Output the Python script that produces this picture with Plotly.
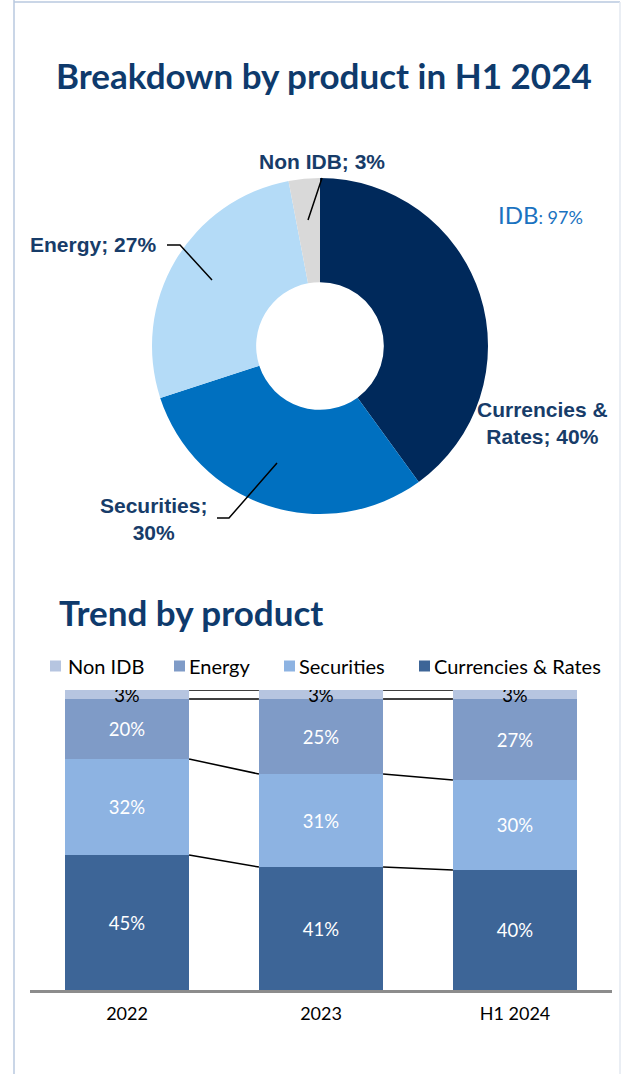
import plotly.graph_objects as go

# ---- Donut: product mix in H1 2024 ----
donut_labels = ["Currencies & Rates", "Securities", "Energy", "Non IDB"]
donut_values = [40, 30, 27, 3]
donut_colors = ["#00295b", "#0070c0", "#b4dbf7", "#d9d9d9"]
idb_share = 97

# ---- Stacked bars: trend by product ----
periods = ["2022", "2023", "H1 2024"]
currencies_rates = [45, 41, 40]
securities = [32, 31, 30]
energy = [20, 25, 27]
non_idb = [3, 3, 3]

W, H = 623, 1074
BAR_W = 0.64


def px(x):
    return x / W


def py(y):
    return 1 - y / H


TITLE_FONT = "Lato"
LABEL_FONT = "Liberation Sans"
NAVY = "#0e3a6c"
LABEL_NAVY = "#173c69"

fig = go.Figure()

fig.add_trace(go.Pie(
    labels=donut_labels,
    values=donut_values,
    marker=dict(colors=donut_colors, line=dict(width=0)),
    hole=0.38,
    sort=False,
    direction="clockwise",
    rotation=0,
    textinfo="none",
    hoverinfo="label+percent",
    showlegend=False,
    domain=dict(x=[px(152), px(488)], y=[py(514), py(178)]),
))

bar_series = [
    ("Currencies & Rates", currencies_rates, "#3d6597", "white"),
    ("Securities", securities, "#8db3e2", "white"),
    ("Energy", energy, "#7f9bc7", "white"),
    ("Non IDB", non_idb, "#b6c5e0", "black"),
]
xs = list(range(len(periods)))
for name, vals, color, tcolor in bar_series:
    fig.add_trace(go.Bar(
        x=xs, y=vals, name=name,
        marker=dict(color=color, line=dict(width=0)),
        width=BAR_W,
        text=[f"{v}%" for v in vals],
        textposition="inside",
        insidetextanchor="middle",
        textangle=0,
        constraintext="none",
        textfont=dict(family=TITLE_FONT, size=18.5, color=tcolor),
        showlegend=False,
        xaxis="x", yaxis="y",
    ))

# Connector lines between neighbouring bars at each stack boundary
shapes = []
cum = [[0] * len(periods)]
for _, vals, _, _ in bar_series:
    cum.append([c + v for c, v in zip(cum[-1], vals)])
for level in cum[1:]:
    for i in range(len(periods) - 1):
        shapes.append(dict(
            type="line", xref="x", yref="y",
            x0=i + BAR_W / 2, y0=level[i],
            x1=i + 1 - BAR_W / 2, y1=level[i + 1],
            line=dict(color="black", width=1.5),
        ))

# Donut leader lines
lead = dict(color="black", width=1.5)
shapes += [
    dict(type="line", xref="paper", yref="paper", x0=px(322), y0=py(178),
         x1=px(308), y1=py(220), line=lead),
    dict(type="path", xref="paper", yref="paper",
         path=f"M {px(167)},{py(245)} L {px(180)},{py(245)} L {px(212)},{py(280)}",
         line=lead),
    dict(type="path", xref="paper", yref="paper",
         path=f"M {px(217)},{py(518)} L {px(229)},{py(518)} L {px(277)},{py(463)}",
         line=lead),
]

# Page frame
frame = dict(color="#b8c8df", width=1.5)
shapes += [
    dict(type="line", xref="paper", yref="paper", x0=px(14), y0=0, x1=px(14), y1=1, line=frame),
    dict(type="line", xref="paper", yref="paper", x0=px(14), y0=py(2), x1=px(620), y1=py(2), line=frame),
    dict(type="line", xref="paper", yref="paper", x0=px(620), y0=py(2), x1=px(620), y1=0,
         line=dict(color="#e3e8f0", width=1.5)),
]

lab_font = dict(family=LABEL_FONT, size=21, color=LABEL_NAVY)
annotations = [
    dict(text="<b>Breakdown by product in H1 2024</b>", x=px(324), y=py(75),
         font=dict(family=TITLE_FONT, size=35, color=NAVY)),
    dict(text="<b>Trend by product</b>", x=px(57), y=py(612), xanchor="left",
         font=dict(family=TITLE_FONT, size=35, color=NAVY)),
    dict(text=f"IDB<span style='font-size:18px'>: {idb_share}%</span>",
         x=px(496), y=py(214), xanchor="left",
         font=dict(family=TITLE_FONT, size=24, color="#1a72c0")),
    dict(text=f"<b>{donut_labels[3]}; {donut_values[3]}%</b>", x=px(322), y=py(161),
         font=lab_font),
    dict(text=f"<b>{donut_labels[2]}; {donut_values[2]}%</b>", x=px(158), y=py(245),
         xanchor="right", font=lab_font),
    dict(text=f"<b>Currencies &amp;<br>Rates; {donut_values[0]}%</b>", x=px(542), y=py(423),
         font=lab_font),
    dict(text=f"<b>{donut_labels[1]};<br>{donut_values[1]}%</b>", x=px(153), y=py(519),
         font=lab_font),
]

# Legend row (top of stack first), square swatch followed by the series name
legend_swatch_x = [50, 174, 284, 419]
legend_text_x = [66, 187, 297, 432]
LEG_Y = 666
for (name, _, color, _), sx, tx in zip(reversed(bar_series), legend_swatch_x, legend_text_x):
    shapes.append(dict(
        type="rect", xref="paper", yref="paper",
        x0=px(sx), x1=px(sx + 11), y0=py(LEG_Y + 5.5), y1=py(LEG_Y - 5.5),
        fillcolor=color, line=dict(width=0),
    ))
    annotations.append(dict(
        text=name.replace("&", "&amp;"), x=px(tx), y=py(LEG_Y), xanchor="left",
        font=dict(family=TITLE_FONT, size=20, color="black"),
    ))

for a in annotations:
    a.setdefault("xref", "paper")
    a.setdefault("yref", "paper")
    a.setdefault("showarrow", False)
    a.setdefault("xanchor", "center")
    a.setdefault("yanchor", "middle")

fig.update_layout(
    width=W, height=H,
    margin=dict(l=0, r=0, t=0, b=0),
    paper_bgcolor="white",
    plot_bgcolor="white",
    barmode="stack",
    bargap=0,
    shapes=shapes,
    annotations=annotations,
    showlegend=False,
    xaxis=dict(
        domain=[px(30), px(612)], range=[-0.5, 2.5],
        tickvals=xs, ticktext=periods,
        showline=True, linecolor="#8c8c8c", linewidth=2.5,
        showgrid=False, zeroline=False, ticks="",
        ticklabelstandoff=6,
        tickfont=dict(family=TITLE_FONT, size=18, color="black"),
        fixedrange=True,
    ),
    yaxis=dict(
        domain=[py(990), py(690)], range=[0, 100],
        visible=False, fixedrange=True,
    ),
)

fig.write_html("out.html")
